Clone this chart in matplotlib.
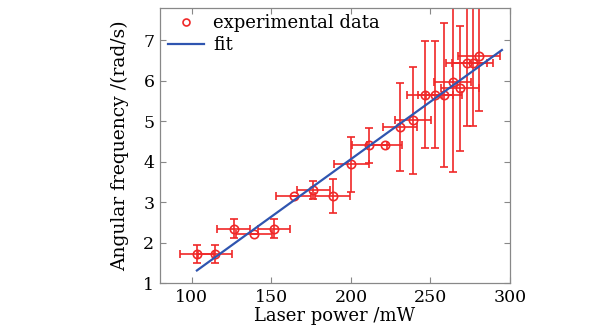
import matplotlib
matplotlib.use("Agg")
import matplotlib.pyplot as plt
from matplotlib.lines import Line2D

# Experimental data (laser power in mW, angular frequency in rad/s)
power = [103.2, 114.6, 126.3, 139.0, 151.6, 164.1, 176.3, 188.6, 200.2, 211.6,
         221.3, 230.8, 239.0, 246.4, 252.9, 258.6, 263.9, 268.5, 272.8, 276.6, 280.8]
freq = [1.72, 1.72, 2.34, 2.20, 2.34, 3.15, 3.30, 3.15, 3.93, 4.40,
        4.40, 4.85, 5.02, 5.66, 5.66, 5.66, 5.96, 5.81, 6.45, 6.45, 6.61]
power_err = [10.6, 10.4, 10.5, 11.5, 10.0, 11.0, 10.5, 11.0, 11.1, 11.0,
             11.0, 10.8, 11.1, 11.0, 11.0, 11.2, 11.4, 11.8, 13.0, 13.0, 13.2]
freq_err = [0.22, 0.22, 0.23, 0.0, 0.23, 0.0, 0.23, 0.42, 0.67, 0.44,
            0.0, 1.09, 1.32, 1.33, 1.33, 1.78, 2.21, 1.55, 1.57, 1.57, 1.35]

# Linear fit line endpoints
fit_x = [103.2, 294.9]
fit_y = [1.31, 6.76]

xticks = [100, 150, 200, 250, 300]
yticks = [1, 2, 3, 4, 5, 6, 7]

plt.rcParams['font.family'] = ['DejaVu Serif']

fig = plt.figure(figsize=(6.13, 3.31), dpi=100)
ax = fig.add_axes([0.261, 0.145, 0.571, 0.831])

red = '#f02828'
ax.errorbar(power, freq, xerr=power_err, yerr=freq_err, fmt='o', color=red,
            ecolor=red, elinewidth=1.2, capsize=3, capthick=1.2,
            markerfacecolor='none', markeredgecolor=red, markersize=6,
            markeredgewidth=1.2, zorder=2)
fit_line, = ax.plot(fit_x, fit_y, color='#2f55b0', lw=1.6, zorder=3)

ax.set_xlim(80, 300)
ax.set_ylim(1, 7.8)
ax.set_xticks(xticks)
ax.set_yticks(yticks)
ax.tick_params(direction='in', top=True, right=True, length=4,
               color='#888888', labelsize=12.5, pad=4)
for s in ax.spines.values():
    s.set_color('#888888')
    s.set_linewidth(0.9)

ax.set_xlabel('Laser power /mW', fontsize=13, labelpad=1)
ax.set_ylabel('Angular frequency /(rad/s)', fontsize=13.5, labelpad=10)

marker_handle = Line2D([], [], marker='o', ls='none', markerfacecolor='none',
                       markeredgecolor=red, markersize=5, markeredgewidth=1.2)
ax.legend([marker_handle, fit_line], ['experimental data', 'fit'],
          loc='upper left', frameon=False, bbox_to_anchor=(0.005, 1.0),
          fontsize=13, handlelength=2.0, borderaxespad=0.2,
          labelspacing=0.2, handletextpad=0.5, borderpad=0.15)

fig.savefig('out.png', dpi=100, facecolor='white')
